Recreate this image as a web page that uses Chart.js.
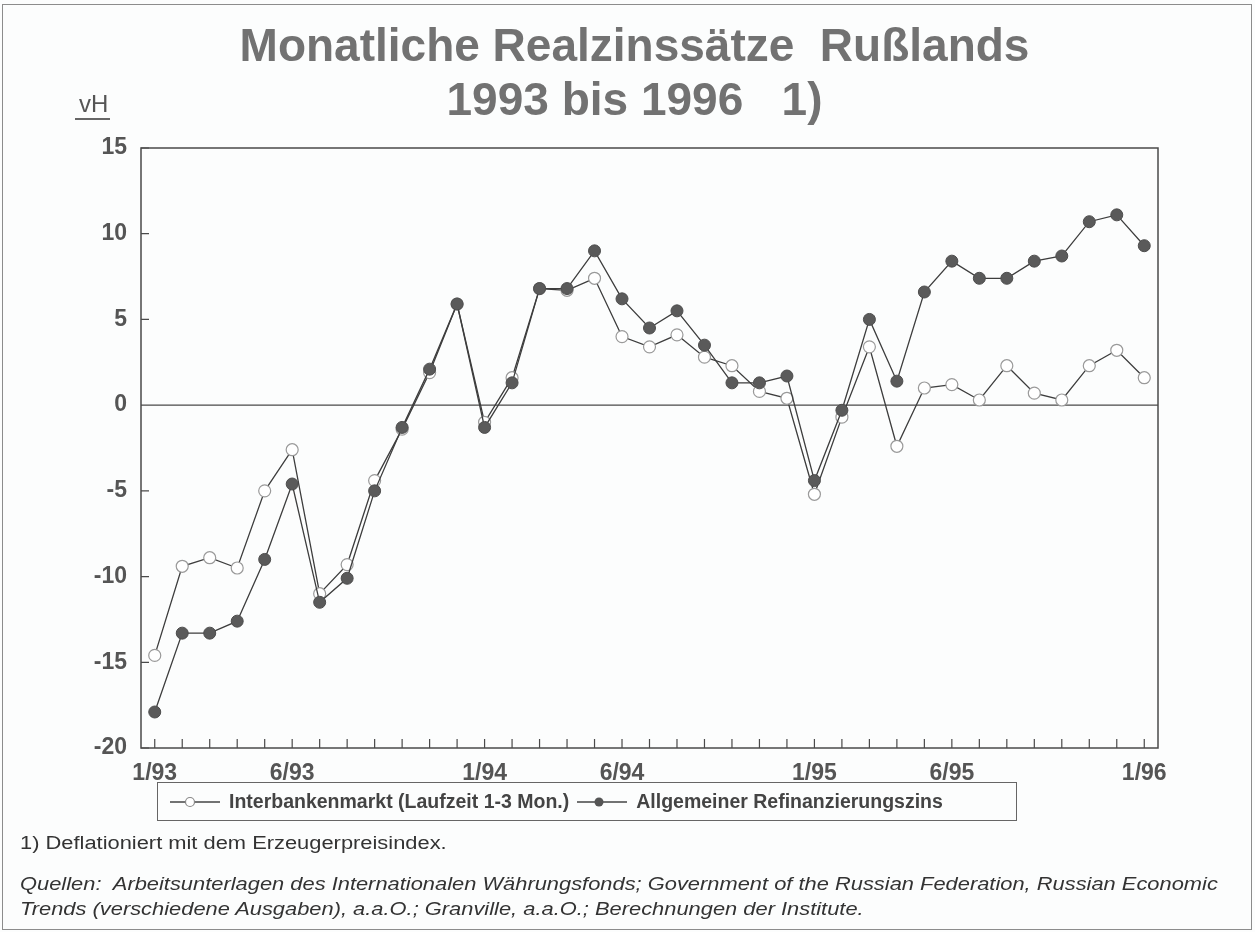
<!DOCTYPE html>
<html lang="de">
<head>
<meta charset="utf-8">
<title>Monatliche Realzinssätze Rußlands</title>
<script src="https://cdn.jsdelivr.net/npm/chart.js@4.4.1/dist/chart.umd.min.js"></script>
<style>
  html, body { margin: 0; padding: 0; background: #fff; }
  #page { position: relative; width: 1255px; height: 932px; background: #fcfdfd; font-family: "Liberation Sans", Arial, sans-serif; overflow: hidden; }
  #frame { position: absolute; left: 2px; top: 4px; right: 3px; bottom: 2px; border: 1px solid #8c8c8c; pointer-events: none; }
  #chart { position: absolute; left: 0; top: 0; }
  .title { position: absolute; left: 7px; width: 1255px; text-align: center; font-weight: bold; color: #727272; font-size: 46px; line-height: 52px; white-space: pre; }
  #unit { position: absolute; left: 75px; top: 91px; font-size: 24px; color: #555; border-bottom: 2px solid #666; padding: 0 2px 1px 4px; line-height: 26px; }
  #legend { position: absolute; left: 157px; top: 782px; width: 846px; height: 37px; padding-left: 12px; border: 1.5px solid #666; display: flex; align-items: center; justify-content: flex-start; font-size: 19.5px; font-weight: bold; color: #444; }
  #legend .item { display: flex; align-items: center; margin-right: 8px; }
  #legend svg { margin-right: 9px; }
  .note { position: absolute; left: 20px; font-size: 18px; line-height: 24px; color: #333; white-space: pre; transform: scaleX(1.215); transform-origin: 0 50%; }
  .italic { font-style: italic; }
</style>
</head>
<body>
<div id="page">
  <canvas id="chart" width="1255" height="932"></canvas>
  <div class="title" style="top: 19px;">Monatliche Realzinssätze  Rußlands</div>
  <div class="title" style="top: 73px;">1993 bis 1996   1)</div>
  <div id="unit">vH</div>
  <div id="legend">
    <div class="item">
      <svg width="50" height="14"><line x1="0" y1="7" x2="50" y2="7" stroke="#444" stroke-width="1.3"/><circle cx="20" cy="7" r="4.5" fill="#fff" stroke="#888" stroke-width="1.2"/></svg>
      <span>Interbankenmarkt (Laufzeit 1-3 Mon.)</span>
    </div>
    <div class="item">
      <svg width="50" height="14"><line x1="0" y1="7" x2="50" y2="7" stroke="#444" stroke-width="1.3"/><circle cx="22" cy="7" r="4.5" fill="#555"/></svg>
      <span>Allgemeiner Refinanzierungszins</span>
    </div>
  </div>
  <div class="note" style="top: 831px;">1) Deflationiert mit dem Erzeugerpreisindex.</div>
  <div class="note italic" style="top: 872px;">Quellen:  Arbeitsunterlagen des Internationalen Währungsfonds; Government of the Russian Federation, Russian Economic</div>
  <div class="note italic" style="top: 897px;">Trends (verschiedene Ausgaben), a.a.O.; Granville, a.a.O.; Berechnungen der Institute.</div>
  <div id="frame"></div>
</div>
<script>
const months = [
  "1/93", "2/93", "3/93", "4/93", "5/93", "6/93", "7/93", "8/93", "9/93", "10/93", "11/93", "12/93",
  "1/94", "2/94", "3/94", "4/94", "5/94", "6/94", "7/94", "8/94", "9/94", "10/94", "11/94", "12/94",
  "1/95", "2/95", "3/95", "4/95", "5/95", "6/95", "7/95", "8/95", "9/95", "10/95", "11/95", "12/95",
  "1/96",
];
const xTickLabels = ["1/93", "6/93", "1/94", "6/94", "1/95", "6/95", "1/96"];

const interbank = [
  -14.6, -9.4, -8.9, -9.5, -5.0, -2.6, -11.0, -9.3, -4.4, -1.4, 1.9, 5.9,
  -1.0, 1.6, 6.8, 6.7, 7.4, 4.0, 3.4, 4.1, 2.8, 2.3, 0.8, 0.4,
  -5.2, -0.7, 3.4, -2.4, 1.0, 1.2, 0.3, 2.3, 0.7, 0.3, 2.3, 3.2,
  1.6,
];
const refinanzierung = [
  -17.9, -13.3, -13.3, -12.6, -9.0, -4.6, -11.5, -10.1, -5.0, -1.3, 2.1, 5.9,
  -1.3, 1.3, 6.8, 6.8, 9.0, 6.2, 4.5, 5.5, 3.5, 1.3, 1.3, 1.7,
  -4.4, -0.3, 5.0, 1.4, 6.6, 8.4, 7.4, 7.4, 8.4, 8.7, 10.7, 11.1,
  9.3,
];

// Rahmen, Nulllinie und nach innen zeigende Teilstriche
const plotFrame = {
  id: "plotFrame",
  beforeDatasetsDraw(chart) {
    const { ctx, chartArea: a, scales } = chart;
    const x = scales.x;
    const y = scales.y;
    ctx.save();
    ctx.strokeStyle = "#4a4a4a";
    ctx.lineWidth = 1.5;
    ctx.strokeRect(a.left, a.top, a.right - a.left, a.bottom - a.top);

    ctx.lineWidth = 1.2;
    ctx.beginPath();
    const y0 = y.getPixelForValue(0);
    ctx.moveTo(a.left, y0);
    ctx.lineTo(a.right, y0);
    months.forEach((m, i) => {
      const px = x.getPixelForValue(i);
      ctx.moveTo(px, a.bottom);
      ctx.lineTo(px, a.bottom - 9);
    });
    y.ticks.forEach((t) => {
      const py = y.getPixelForValue(t.value);
      ctx.moveTo(a.left, py);
      ctx.lineTo(a.left + 8, py);
    });
    ctx.stroke();
    ctx.restore();
  },
};

const tickFont = { family: "'Liberation Sans', Arial, sans-serif", size: 23, weight: "bold" };

new Chart(document.getElementById("chart"), {
  type: "line",
  data: {
    labels: months,
    datasets: [
      {
        label: "Allgemeiner Refinanzierungszins",
        data: refinanzierung,
        borderColor: "#3d3d3d",
        borderWidth: 1.3,
        pointRadius: 6,
        pointBackgroundColor: "#5a5a5a",
        pointBorderColor: "#4d4d4d",
        pointBorderWidth: 1,
        tension: 0,
      },
      {
        label: "Interbankenmarkt (Laufzeit 1-3 Mon.)",
        data: interbank,
        borderColor: "#3d3d3d",
        borderWidth: 1.3,
        pointRadius: 6,
        pointBackgroundColor: "#ffffff",
        pointBorderColor: "#9a9a9a",
        pointBorderWidth: 1.2,
        tension: 0,
      },
    ],
  },
  options: {
    responsive: false,
    animation: false,
    layout: { padding: { top: 148, right: 97, left: 0, bottom: 0 } },
    plugins: {
      legend: { display: false },
      tooltip: { enabled: false },
    },
    scales: {
      x: {
        type: "category",
        offset: true,
        grid: { display: false },
        border: { display: false },
        ticks: {
          autoSkip: false,
          maxRotation: 0,
          padding: 4,
          color: "#555",
          font: tickFont,
          callback: function (value, index) {
            const l = months[index];
            return xTickLabels.includes(l) ? l : "";
          },
        },
        afterFit: function (scale) {
          scale.height = 184;
        },
      },
      y: {
        min: -20,
        max: 15,
        grid: { display: false },
        border: { display: false },
        ticks: {
          stepSize: 5,
          padding: 6,
          color: "#555",
          font: tickFont,
        },
        afterFit: function (scale) {
          scale.width = 141;
        },
      },
    },
  },
  plugins: [plotFrame],
});
</script>
</body>
</html>
